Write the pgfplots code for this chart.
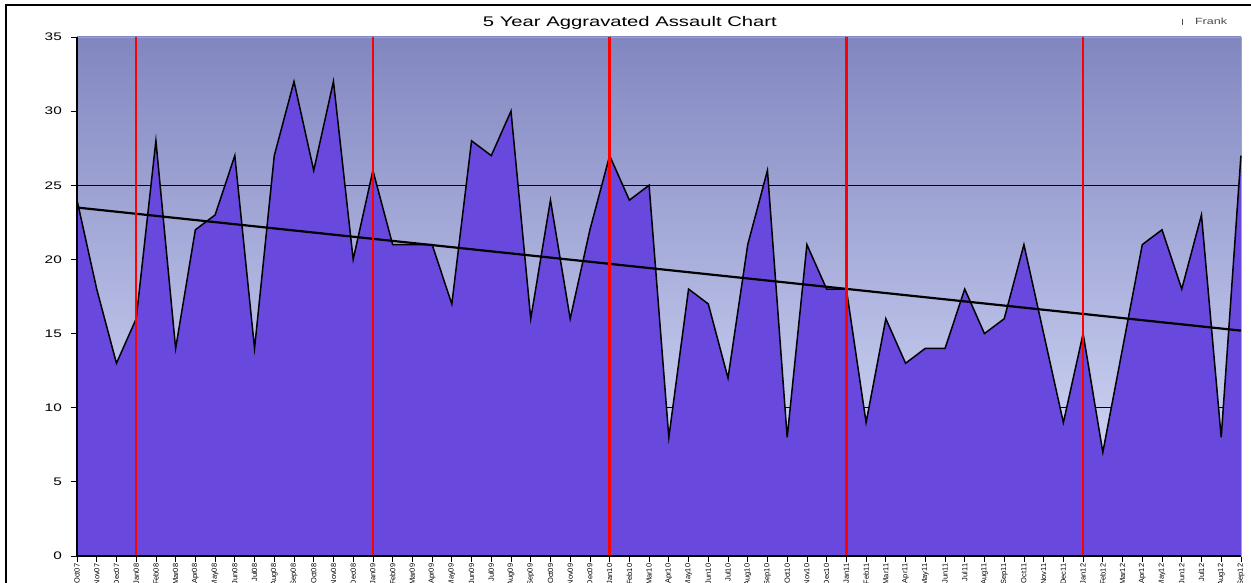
\documentclass[border=0pt]{standalone}
\usepackage{fontspec}
\setmainfont{Liberation Sans}
\usepackage{graphicx}
\usepackage{pgfplots}
\usepackage{pgfplotstable}
\pgfplotsset{compat=1.18}
\definecolor{areafill}{RGB}{105,72,222}
\definecolor{bgtop}{RGB}{130,134,192}
\definecolor{bgbot}{RGB}{222,230,255}
\pgfplotstableread{
idx val
0 24
1 18
2 13
3 16
4 28
5 14
6 22
7 23
8 27
9 14
10 27
11 32
12 26
13 32
14 20
15 26
16 21
17 21
18 21
19 17
20 28
21 27
22 30
23 16
24 24
25 16
26 22
27 27
28 24
29 25
30 8
31 18
32 17
33 12
34 21
35 26
36 8
37 21
38 18
39 18
40 9
41 16
42 13
43 14
44 14
45 18
46 15
47 16
48 21
49 15
50 9
51 15
52 7
53 14
54 21
55 22
56 18
57 23
58 8
59 27
}\crimedata
\pgfplotstableread{
x y
0 23.5
59 15.2
}\trenddata
\begin{document}
\begin{tikzpicture}
\path[use as bounding box] (-77bp,-27bp) rectangle (1174bp,556bp);
\fill[white] (-77bp,-27bp) rectangle (1174bp,556bp);
\draw[black,line width=2.2bp] (-71bp,-30bp) -- (-71bp,551bp) -- (1180bp,551bp);
\begin{axis}[
  at={(0,0)}, anchor=south west,
  scale only axis, width=1164bp, height=519bp,
  xmin=0, xmax=59, ymin=0, ymax=35,
  axis background/.style={top color=bgtop, bottom color=bgbot},
  axis line style={draw=gray!70, line width=0.8bp},
  tick align=outside,
  xtick pos=bottom, ytick pos=left,
  major tick length=6bp,
  tick style={black, line width=0.8bp},
  ytick={0,5,...,35},
  yticklabel={\scalebox{1.4}[1]{\pgfmathprintnumber{\tick}}},
  yticklabel style={font=\fontsize{11}{12}\selectfont, anchor=east, inner sep=0pt, xshift=-9bp},
  xtick={0,...,59},
  xticklabels={Oct07,Nov07,Dec07,Jan08,Feb08,Mar08,Apr08,May08,Jun08,Jul08,Aug08,Sep08,Oct08,Nov08,Dec08,Jan09,Feb09,Mar09,Apr09,May09,Jun09,Jul09,Aug09,Sep09,Oct09,Nov09,Dec09,Jan10,Feb10,Mar10,Apr10,May10,Jun10,Jul10,Aug10,Sep10,Oct10,Nov10,Dec10,Jan11,Feb11,Mar11,Apr11,May11,Jun11,Jul11,Aug11,Sep11,Oct11,Nov11,Dec11,Jan12,Feb12,Mar12,Apr12,May12,Jun12,Jul12,Aug12,Sep12},
  xticklabel style={rotate=90, anchor=east, font=\fontsize{7.5}{8}\selectfont, inner sep=1.5bp},
  /pgf/number format/assume math mode=true,
  title={\scalebox{1.45}[1]{5 Year Aggravated Assault Chart}},
  title style={at={(0.475,1)}, anchor=center, yshift=8bp, font=\fontsize{14}{16}\selectfont},
  legend style={at={(0.99,1)}, anchor=east, yshift=15bp, draw=none, fill=none,
    font=\fontsize{9}{10}\selectfont, text=black!70, inner sep=0pt},
  legend image code/.code={\path[draw=none] (0,0) -- (0.38cm,0);\draw[black!70, line width=0.7bp] (0,-0.09cm) -- (0,0.09cm);},
  clip=false,
]
\addplot[black, line width=0.8bp, forget plot] coordinates {(0,25) (59,25)};
\addplot[black, line width=0.8bp, forget plot] coordinates {(0,10) (59,10)};
\addplot[fill=areafill, draw=none, forget plot] table[x=idx, y=val] {\crimedata} \closedcycle;
\addplot[black, line width=1.5bp] table[x=idx, y=val] {\crimedata};
\addlegendentry{\scalebox{1.4}[1]{Frank}}
\addplot[black, line width=2.2bp, forget plot] table[x=x, y=y] {\trenddata};
\addplot[red, line width=2.6bp, forget plot] coordinates {(3,0) (3,35)};
\addplot[red, line width=2.6bp, forget plot] coordinates {(15,0) (15,35)};
\addplot[red, line width=2.6bp, forget plot] coordinates {(27,0) (27,35)};
\addplot[red, line width=2.6bp, forget plot] coordinates {(39,0) (39,35)};
\addplot[red, line width=2.6bp, forget plot] coordinates {(51,0) (51,35)};
\draw[black, line width=1.3bp] (rel axis cs:0,1) -- (rel axis cs:0,0) -- (rel axis cs:1,0);
\end{axis}
\end{tikzpicture}
\end{document}
